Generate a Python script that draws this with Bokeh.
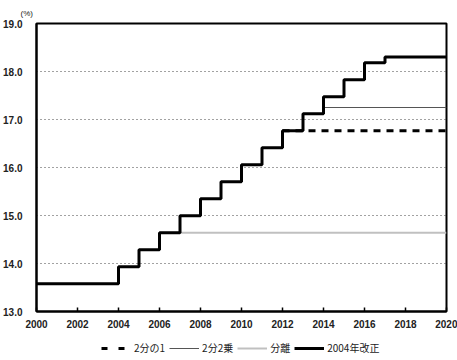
from bokeh.plotting import figure
from bokeh.layouts import column
from bokeh.models import (Range1d, FixedTicker, Legend, LegendItem,
                          NumeralTickFormatter)
from bokeh.embed import file_html
from bokeh.resources import INLINE

# --- data -----------------------------------------------------------------
years_2004 = [2000, 2004, 2005, 2006, 2007, 2008, 2009, 2010, 2011, 2012,
              2013, 2014, 2015, 2016, 2017, 2020]
rates_2004 = [13.58, 13.934, 14.288, 14.642, 14.996, 15.35, 15.704, 16.058,
              16.412, 16.766, 17.12, 17.474, 17.828, 18.182, 18.3, 18.3]

years_split = [2006, 2020]
rates_split = [14.642, 14.642]

years_n2 = [2014, 2020]
rates_n2 = [17.25, 17.25]

years_half = [2012, 2020]
rates_half = [16.766, 16.766]

x_ticks = [2000, 2002, 2004, 2006, 2008, 2010, 2012, 2014, 2016, 2018, 2020]
y_ticks = [13, 14, 15, 16, 17, 18, 19]

labels = ["2分の1", "2分2乗", "分離", "2004年改正"]

NUM_FONT = "Liberation Sans"
JP_FONT = "Noto Sans CJK JP"

STYLE_HALF = dict(line_color="black", line_width=3, line_dash="7 6")
STYLE_HALF_KEY = dict(line_color="black", line_width=3, line_dash="6 11")
STYLE_N2 = dict(line_color="#555555", line_width=1)
STYLE_SPLIT = dict(line_color="#c0c0c0", line_width=2)
STYLE_2004 = dict(line_color="black", line_width=3)

p = figure(width=457, height=335, output_backend="svg", toolbar_location=None,
           x_range=Range1d(2000, 2020), y_range=Range1d(13, 19),
           min_border_left=36, min_border_right=11, min_border_top=22,
           min_border_bottom=24, background_fill_color="white",
           border_fill_color="white", title="(%)")

p.title.text_font = NUM_FONT
p.title.text_font_size = "8px"
p.title.text_font_style = "normal"
p.title.text_color = "#222222"
p.title.align = "left"
p.title.offset = -16
p.title.standoff = 12

p.outline_line_color = "black"
p.outline_line_width = 2

# grid
p.xgrid.grid_line_color = None
p.ygrid.ticker = FixedTicker(ticks=[14, 15, 16, 17, 18])
p.ygrid.grid_line_color = "#444444"
p.ygrid.grid_line_dash = "1 3"
p.ygrid.grid_line_width = 1

# axes
p.xaxis.ticker = FixedTicker(ticks=x_ticks)
p.yaxis.ticker = FixedTicker(ticks=y_ticks)
p.yaxis.formatter = NumeralTickFormatter(format="0.0")
for ax in (p.xaxis[0], p.yaxis[0]):
    ax.axis_line_color = "black"
    ax.axis_line_width = 2
    ax.minor_tick_line_color = None
    ax.major_label_text_font = NUM_FONT
    ax.major_label_text_font_size = "10px"
    ax.major_label_text_font_style = "bold"
    ax.major_label_text_color = "#222222"
p.xaxis.major_tick_in = 4
p.xaxis.major_tick_out = 0
p.xaxis.major_tick_line_width = 1.5
p.xaxis.major_label_standoff = 8
p.yaxis.major_tick_line_color = None
p.yaxis.major_label_standoff = 8

# series
p.line(years_split, rates_split, **STYLE_SPLIT)
p.line(years_n2, rates_n2, **STYLE_N2)
p.line(years_half, rates_half, **STYLE_HALF)
p.step(years_2004, rates_2004, mode="after", **STYLE_2004)

# legend strip (NaN renderers only provide legend swatches)
q = figure(width=457, height=25, output_backend="svg", toolbar_location=None,
           x_range=Range1d(0, 1), y_range=Range1d(0, 1),
           min_border=0, background_fill_color="white",
           border_fill_color="white")
q.axis.visible = False
q.grid.grid_line_color = None
q.outline_line_color = None
nan = [float("nan")]
lr = [q.line(nan, nan, **STYLE_HALF_KEY), q.line(nan, nan, **STYLE_N2),
      q.line(nan, nan, **STYLE_SPLIT), q.line(nan, nan, **STYLE_2004)]

legend = Legend(items=[LegendItem(label=lab, renderers=[r])
                       for lab, r in zip(labels, lr)],
                orientation="horizontal", location=(65, 5),
                border_line_color=None, background_fill_alpha=0,
                label_text_font=JP_FONT, label_text_font_size="10px",
                label_text_color="#222222",
                glyph_width=30, glyph_height=10, label_standoff=3,
                spacing=4, padding=2, margin=0)
q.add_layout(legend, "center")

open("out.html", "w").write(file_html(column(p, q, spacing=0), INLINE))
